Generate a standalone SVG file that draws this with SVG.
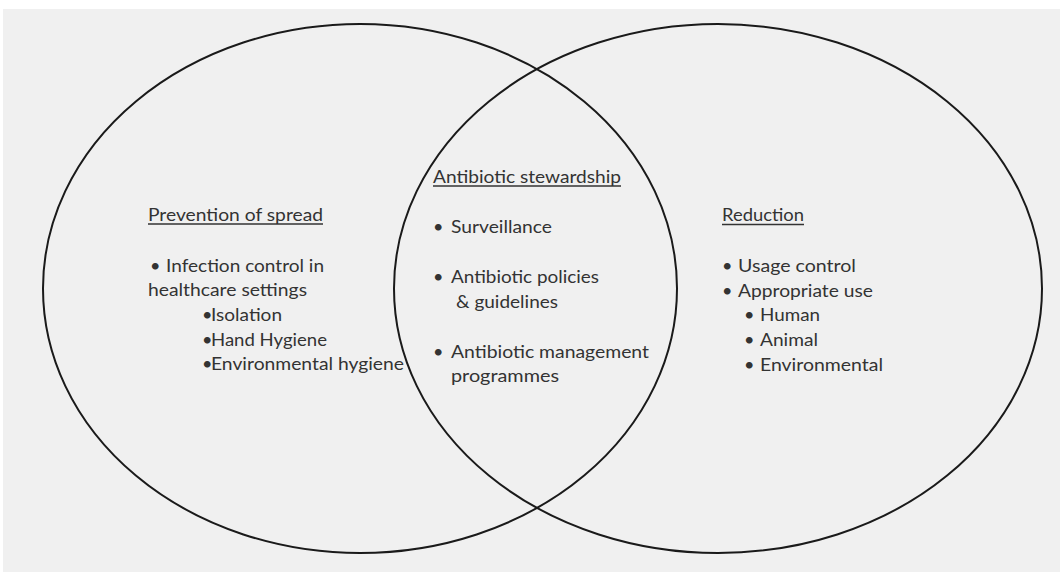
<svg xmlns="http://www.w3.org/2000/svg" width="1060" height="572" viewBox="0 0 1060 572">
<style>
.bg{fill:#f0f0f0}
.set{fill:none;stroke:#1a1a1a;stroke-width:2}
.t{font-family:Lato,"Open Sans","Liberation Sans",sans-serif;font-size:18px;fill:#333}
.u{stroke:#333;stroke-width:1.3}
</style>
<rect x="0" y="0" width="1060" height="572" fill="#ffffff"/>
<rect class="bg" x="3" y="9" width="1057" height="563"/>
<g id="set-left">
<ellipse class="set" cx="360" cy="288.5" rx="317" ry="264.5"/>
</g>
<g id="set-right">
<ellipse class="set" cx="718" cy="288.5" rx="324" ry="264.5"/>
</g>
<g id="prevention">
<text class="t" x="148" y="221" textLength="175" lengthAdjust="spacingAndGlyphs">Prevention of spread</text>
<line class="u" x1="148" y1="224" x2="323" y2="224"/>
<text class="t" x="150" y="272">•</text>
<text class="t" x="166" y="272" textLength="158" lengthAdjust="spacingAndGlyphs">Infection control in</text>
<text class="t" x="148" y="296" textLength="159" lengthAdjust="spacingAndGlyphs">healthcare settings</text>
<text class="t" x="202" y="321">•</text>
<text class="t" x="211" y="321" textLength="71" lengthAdjust="spacingAndGlyphs">Isolation</text>
<text class="t" x="202" y="345.5">•</text>
<text class="t" x="211" y="345.5" textLength="116" lengthAdjust="spacingAndGlyphs">Hand Hygiene</text>
<text class="t" x="202" y="370">•</text>
<text class="t" x="211" y="370" textLength="193" lengthAdjust="spacingAndGlyphs">Environmental hygiene</text>
</g>
<g id="stewardship">
<text class="t" x="433" y="183" textLength="188" lengthAdjust="spacingAndGlyphs">Antibiotic stewardship</text>
<line class="u" x1="433" y1="186" x2="621" y2="186"/>
<text class="t" x="433" y="233">•</text>
<text class="t" x="451" y="233" textLength="101" lengthAdjust="spacingAndGlyphs">Surveillance</text>
<text class="t" x="433" y="283">•</text>
<text class="t" x="451" y="283" textLength="148" lengthAdjust="spacingAndGlyphs">Antibiotic policies</text>
<text class="t" x="456" y="308" textLength="102" lengthAdjust="spacingAndGlyphs">&amp; guidelines</text>
<text class="t" x="433" y="358">•</text>
<text class="t" x="451" y="358" textLength="198" lengthAdjust="spacingAndGlyphs">Antibiotic management</text>
<text class="t" x="451" y="382" textLength="108" lengthAdjust="spacingAndGlyphs">programmes</text>
</g>
<g id="reduction">
<text class="t" x="722" y="221" textLength="82" lengthAdjust="spacingAndGlyphs">Reduction</text>
<line class="u" x1="722" y1="224.5" x2="804" y2="224.5"/>
<text class="t" x="722" y="272">•</text>
<text class="t" x="738" y="272" textLength="118" lengthAdjust="spacingAndGlyphs">Usage control</text>
<text class="t" x="722" y="297">•</text>
<text class="t" x="738" y="297" textLength="135" lengthAdjust="spacingAndGlyphs">Appropriate use</text>
<text class="t" x="744" y="321">•</text>
<text class="t" x="760" y="321" textLength="60" lengthAdjust="spacingAndGlyphs">Human</text>
<text class="t" x="744" y="346">•</text>
<text class="t" x="760" y="346" textLength="58" lengthAdjust="spacingAndGlyphs">Animal</text>
<text class="t" x="744" y="371">•</text>
<text class="t" x="760" y="371" textLength="123" lengthAdjust="spacingAndGlyphs">Environmental</text>
</g>
<g id="connectors"></g>
</svg>
